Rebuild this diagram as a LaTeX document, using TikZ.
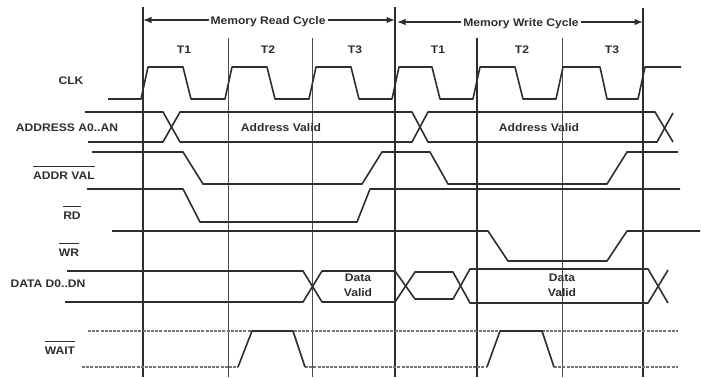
\documentclass[tikz,border=0pt]{standalone}
\usepackage{fontspec}
\setmainfont{Liberation Sans}[FakeStretch=1.1]
\usetikzlibrary{arrows.meta}
\newcommand\ovl[1]{\vbox{\hrule height 1.4bp\kern 4.5bp\hbox{#1}}}
\definecolor{ink}{HTML}{2E2E2E}
\tikzset{
  sig/.style={line width=1.6bp, draw=ink, line join=round},
  thin/.style={line width=1bp, draw=ink!85},
  heavy/.style={line width=1.8bp, draw=ink},
  dsh/.style={line width=1.3bp, draw=black!55, dash pattern=on 3bp off 1.2bp},
  lbl/.style={font=\fontsize{11bp}{15bp}\selectfont\bfseries, text=ink, inner sep=0pt, anchor=base},
  cyc/.style={{Latex[length=8.5bp,width=6.5bp]}-{Latex[length=8.5bp,width=6.5bp]}, line width=1.2bp, draw=ink},
}
\begin{document}
\begin{tikzpicture}[x=1bp,y=-1bp]
\useasboundingbox (0,0) rectangle (701,377);
% vertical grid
\draw[heavy] (143,7) -- (143,377);
\draw[heavy] (395,7) -- (395,377);
\draw[heavy, line width=1.4bp] (643,8) -- (643,377);
\draw[heavy, line width=1.5bp] (477,38) -- (477,377);
\draw[thin] (228,38) -- (228,377);
\draw[thin] (312,38) -- (312,377);
\draw[thin] (562,38) -- (562,377);
% cycle arrows
\coordinate (rs) at (143,20);
\coordinate (re) at (395,20);
\coordinate (ws) at (397,22);
\coordinate (we) at (643,22);
\draw[cyc] (rs) -- (re);
\draw[cyc] (ws) -- (we);
\node[lbl, fill=white, inner xsep=2bp, inner ysep=1bp] (rc) at (268,24) {Memory Read Cycle};
\node[lbl, fill=white, inner xsep=2bp, inner ysep=1bp] (wc) at (521,26) {Memory Write Cycle};
% T labels
\node[lbl] (t1a) at (184,53) {T1};
\node[lbl] (t2a) at (268,53) {T2};
\node[lbl] (t3a) at (355,53) {T3};
\node[lbl] (t1b) at (438,53) {T1};
\node[lbl] (t2b) at (522,53) {T2};
\node[lbl] (t3b) at (612,53) {T3};
% signal names
\node[lbl] (clk) at (71,84) {CLK};
\node[lbl] (addr) at (67,131) {ADDRESS A0..AN};
\node[lbl] (av) at (64,179) {\ovl{ADDR VAL}};
\node[lbl] (rd) at (72,219) {\ovl{RD}};
\node[lbl] (wr) at (69,256) {\ovl{WR}};
\node[lbl] (data) at (48,287) {DATA D0..DN};
\node[lbl] (wait) at (60,354) {\ovl{WAIT}};
% CLK
\draw[sig] (108,99) -- (141,99) -- (148,67) -- (183,67) -- (191,99) -- (225,99) -- (232,67) -- (267,67) -- (275,99)
  -- (309,99) -- (316,67) -- (351,67) -- (359,99) -- (392,99) -- (399,67) -- (432,67) -- (440,99)
  -- (473,99) -- (480,67) -- (515,67) -- (523,99) -- (556,99) -- (563,67) -- (600,67) -- (607,99)
  -- (638,99) -- (645,67) -- (681,67);
% ADDRESS bus
\draw[sig] (85,112) -- (163,112) -- (180,142) -- (412,142) -- (428,112) -- (655,112) -- (673,142);
\draw[sig] (88,142) -- (163,142) -- (180,112) -- (412,112) -- (428,142) -- (657,142) -- (673,113);
\node[lbl] (av1) at (281,131) {Address Valid};
\node[lbl] (av2) at (539,131) {Address Valid};
% ADDR VAL
\draw[sig] (92,152) -- (183,152) -- (203,184) -- (362,184) -- (382,152) -- (430,152) -- (448,184) -- (607,184) -- (627,152) -- (678,152);
% RD
\draw[sig] (87,189) -- (183,189) -- (200,222) -- (357,222) -- (370,189) -- (680,189);
% WR
\draw[sig] (112,231) -- (488,231) -- (508,261) -- (607,261) -- (627,231) -- (700,231);
% DATA bus
\draw[sig] (67,271) -- (303,271) -- (322,302) -- (395,302) -- (415,272) -- (453,272) -- (470,303) -- (648,303) -- (668,270);
\draw[sig] (65,302) -- (303,302) -- (322,271) -- (395,271) -- (415,299) -- (453,299) -- (470,269) -- (648,269) -- (668,303);
\node[lbl, anchor=center, align=center] (dv1) at (358,285.5) {Data\\Valid};
\node[lbl, anchor=center, align=center] (dv2) at (562,285.5) {Data\\Valid};
% WAIT
\draw[dsh] (88,331) -- (678,331);
\draw[dsh] (82,367) -- (238,367);
\draw[dsh] (305,367) -- (487,367);
\draw[dsh] (554,367) -- (678,367);
\draw[sig] (238,367) -- (252,331) -- (293,331) -- (305,367);
\draw[sig] (487,367) -- (500,331) -- (542,331) -- (554,367);
\end{tikzpicture}
\end{document}
